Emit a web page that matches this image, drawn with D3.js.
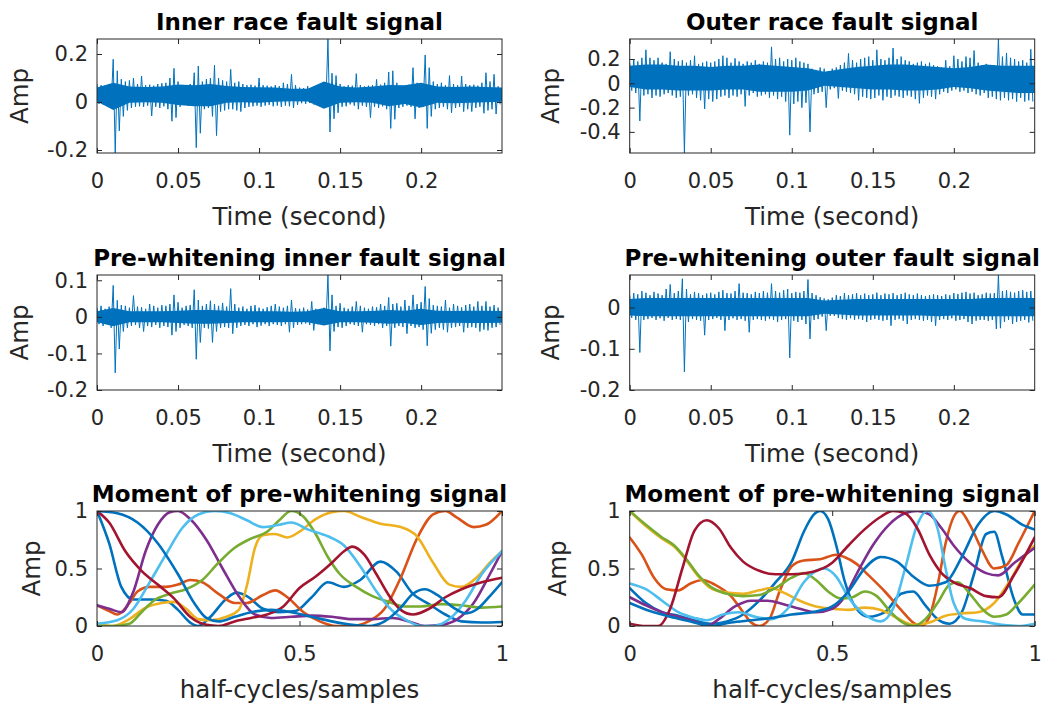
<!DOCTYPE html>
<html>
<head>
<meta charset="utf-8">
<script src="https://cdn.jsdelivr.net/npm/d3@7"></script>
<style>
body { margin: 0; background: #fff; }
text { font-family: "DejaVu Sans", sans-serif; }
</style>
</head>
<body>
<svg id="fig" width="1048" height="708"></svg>
<script>
// ---- data ----
// signals: per 2.5 ms bin, the highest and lowest sample value
const binSeconds = 0.0025;
// dense core of each signal, one pair every 10 ms
const bandSeconds = 0.01;
const timeTicks = [0, 0.05, 0.1, 0.15, 0.2];
const timeRange = [0, 0.2499];

const innerHi = [0.075,0.07,0.068,0.072,0.178,0.13,0.095,0.085,0.09,0.1,0.075,0.108,0.07,0.072,0.068,0.075,0.078,0.08,0.1,0.14,
  0.085,0.07,0.065,0.075,0.122,0.15,0.085,0.095,0.1,0.153,0.1,0.09,0.085,0.136,0.08,0.085,0.075,0.07,0.072,0.068,
  0.1,0.07,0.068,0.065,0.07,0.066,0.08,0.075,0.115,0.07,0.06,0.058,0.066,0.055,0.058,0.062,0.056,0.2625,0.12,0.11,
  0.075,0.065,0.07,0.068,0.118,0.07,0.065,0.068,0.07,0.094,0.072,0.08,0.125,0.13,0.08,0.068,0.07,0.072,0.143,0.08,
  0.075,0.196,0.143,0.085,0.075,0.08,0.07,0.11,0.075,0.07,0.108,0.075,0.07,0.072,0.068,0.08,0.122,0.085,0.115,0.065];
const innerLo = [-0.008,-0.01,-0.004,-0.012,-0.2125,-0.12,-0.06,-0.035,-0.025,-0.02,-0.018,-0.02,-0.015,-0.058,-0.02,-0.025,-0.018,-0.03,-0.08,-0.065,
  -0.02,-0.01,-0.015,-0.012,-0.19,-0.13,-0.03,-0.025,-0.06,-0.14,-0.04,-0.035,-0.03,-0.03,-0.035,-0.04,-0.025,-0.02,-0.018,-0.015,
  -0.02,-0.015,-0.012,-0.018,-0.015,-0.02,-0.015,-0.018,-0.025,-0.012,-0.005,-0.008,-0.004,-0.01,-0.006,-0.015,-0.005,-0.125,-0.07,-0.045,
  -0.02,-0.018,-0.01,-0.015,-0.03,-0.015,-0.02,-0.065,-0.02,-0.025,-0.018,-0.03,-0.11,-0.072,-0.025,-0.02,-0.015,-0.02,-0.07,-0.025,
  -0.02,-0.11,-0.06,-0.03,-0.025,-0.02,-0.03,-0.045,-0.025,-0.02,-0.04,-0.03,-0.04,-0.025,-0.02,-0.047,-0.035,-0.03,-0.05,-0.01];
const innerBandHi = [0.06,0.08,0.065,0.063,0.065,0.073,0.07,0.075,0.067,0.063,0.061,0.06,0.055,0.055,0.085,0.065,0.06,0.065,0.071,0.07,0.08,0.065,0.063,0.065,0.063,0.06];
const innerBandLo = [0.002,-0.033,-0.003,-0.001,-0.003,-0.013,-0.018,-0.018,-0.003,-0.001,-0.003,0.001,0.003,0.002,-0.028,-0.003,-0.001,-0.003,-0.018,-0.008,-0.023,-0.003,-0.005,-0.003,-0.001,0.001];

const outerHi = [0.17,0.2,0.18,0.21,0.276,0.21,0.19,0.21,0.17,0.16,0.26,0.2,0.18,0.19,0.17,0.19,0.227,0.16,0.17,0.18,
  0.17,0.18,0.2,0.227,0.21,0.17,0.205,0.18,0.16,0.18,0.17,0.19,0.16,0.18,0.17,0.3,0.2,0.21,0.18,0.2,
  0.19,0.21,0.18,0.17,0.16,0.12,0.11,0.13,0.12,0.1,0.12,0.13,0.15,0.17,0.246,0.19,0.17,0.2,0.21,0.22,
  0.19,0.276,0.2,0.19,0.21,0.29,0.2,0.22,0.19,0.18,0.16,0.17,0.18,0.16,0.17,0.15,0.14,0.13,0.19,0.14,
  0.227,0.2,0.18,0.22,0.21,0.27,0.17,0.15,0.16,0.14,0.15,0.365,0.22,0.25,0.21,0.2,0.18,0.19,0.17,0.28];
const outerLo = [-0.06,-0.08,-0.31,-0.1,-0.09,-0.12,-0.1,-0.11,-0.09,-0.08,-0.1,-0.12,-0.11,-0.574,-0.1,-0.09,-0.12,-0.14,-0.21,-0.13,
  -0.15,-0.13,-0.11,-0.1,-0.12,-0.1,-0.11,-0.09,-0.19,-0.1,-0.08,-0.11,-0.1,-0.09,-0.12,-0.1,-0.13,-0.11,-0.15,-0.427,
  -0.17,-0.15,-0.2,-0.16,-0.4,-0.09,-0.08,-0.07,-0.2,-0.05,-0.04,-0.124,-0.06,-0.07,-0.08,-0.09,-0.14,-0.11,-0.12,-0.13,
  -0.12,-0.1,-0.14,-0.11,-0.12,-0.1,-0.11,-0.12,-0.1,-0.11,-0.13,-0.165,-0.12,-0.1,-0.11,-0.13,-0.09,-0.07,-0.08,-0.06,
  -0.05,-0.07,-0.06,-0.08,-0.07,-0.09,-0.1,-0.08,-0.12,-0.11,-0.13,-0.14,-0.12,-0.14,-0.13,-0.15,-0.12,-0.15,-0.14,-0.15];
const outerBandHi = [0.145,0.155,0.155,0.145,0.145,0.135,0.145,0.145,0.155,0.145,0.135,0.125,0.095,0.115,0.135,0.145,0.155,0.155,0.145,0.135,0.125,0.135,0.155,0.145,0.145,0.145];
const outerBandLo = [-0.03,-0.05,-0.05,-0.06,-0.06,-0.06,-0.05,-0.05,-0.07,-0.07,-0.07,-0.06,-0.02,-0.03,-0.04,-0.05,-0.05,-0.06,-0.06,-0.05,-0.03,-0.04,-0.06,-0.07,-0.08,-0.08];

const preInnerHi = [0.025,0.03,0.022,0.028,0.086,0.045,0.032,0.03,0.025,0.058,0.028,0.026,0.022,0.035,0.03,0.025,0.032,0.03,0.035,0.06,
  0.04,0.025,0.03,0.032,0.074,0.046,0.03,0.035,0.044,0.035,0.03,0.038,0.028,0.077,0.035,0.025,0.028,0.022,0.03,0.032,
  0.025,0.022,0.026,0.03,0.035,0.028,0.025,0.03,0.046,0.024,0.022,0.025,0.02,0.042,0.022,0.02,0.025,0.1144,0.06,0.03,
  0.037,0.025,0.022,0.028,0.042,0.03,0.025,0.022,0.028,0.026,0.035,0.03,0.053,0.035,0.037,0.028,0.046,0.03,0.06,0.035,
  0.04,0.083,0.05,0.032,0.03,0.028,0.046,0.025,0.035,0.03,0.026,0.032,0.035,0.028,0.042,0.03,0.042,0.028,0.032,0.025];
const preInnerLo = [-0.02,-0.025,-0.018,-0.03,-0.153,-0.088,-0.04,-0.03,-0.025,-0.022,-0.03,-0.04,-0.025,-0.028,-0.022,-0.03,-0.025,-0.028,-0.05,-0.04,
  -0.03,-0.022,-0.025,-0.03,-0.116,-0.07,-0.03,-0.032,-0.07,-0.04,-0.03,-0.028,-0.03,-0.046,-0.03,-0.025,-0.022,-0.025,-0.02,-0.028,
  -0.024,-0.02,-0.025,-0.02,-0.022,-0.025,-0.02,-0.042,-0.03,-0.022,-0.02,-0.018,-0.022,-0.037,-0.02,-0.018,-0.02,-0.093,-0.04,-0.028,
  -0.03,-0.025,-0.02,-0.022,-0.025,-0.042,-0.02,-0.022,-0.025,-0.02,-0.03,-0.025,-0.08,-0.03,-0.025,-0.028,-0.046,-0.025,-0.03,-0.028,
  -0.035,-0.079,-0.045,-0.035,-0.03,-0.035,-0.042,-0.03,-0.028,-0.025,-0.042,-0.03,-0.028,-0.03,-0.04,-0.035,-0.037,-0.03,-0.028,-0.022];
const preInnerBandHi = [0.015,0.024,0.015,0.015,0.015,0.017,0.019,0.019,0.017,0.015,0.015,0.015,0.014,0.015,0.024,0.015,0.015,0.016,0.019,0.017,0.022,0.017,0.016,0.017,0.017,0.016];
const preInnerBandLo = [-0.015,-0.026,-0.015,-0.015,-0.015,-0.017,-0.019,-0.019,-0.017,-0.015,-0.015,-0.015,-0.014,-0.015,-0.024,-0.015,-0.015,-0.016,-0.019,-0.017,-0.022,-0.017,-0.016,-0.017,-0.017,-0.016];

const preOuterHi = [0.03,0.035,0.032,0.04,0.036,0.03,0.038,0.034,0.03,0.045,0.056,0.035,0.04,0.07,0.045,0.032,0.038,0.035,0.03,0.034,
  0.036,0.032,0.038,0.042,0.035,0.034,0.04,0.058,0.036,0.035,0.032,0.038,0.035,0.04,0.036,0.058,0.04,0.036,0.042,0.045,
  0.035,0.038,0.036,0.04,0.068,0.035,0.03,0.025,0.022,0.02,0.024,0.03,0.028,0.035,0.03,0.032,0.035,0.03,0.034,0.03,
  0.032,0.036,0.03,0.034,0.032,0.035,0.03,0.033,0.036,0.032,0.03,0.034,0.03,0.028,0.03,0.032,0.03,0.028,0.032,0.03,
  0.035,0.033,0.036,0.038,0.034,0.036,0.03,0.032,0.036,0.034,0.035,0.079,0.04,0.042,0.038,0.036,0.04,0.042,0.038,0.04];
const preOuterLo = [-0.025,-0.03,-0.109,-0.03,-0.028,-0.025,-0.03,-0.026,-0.032,-0.025,-0.03,-0.028,-0.03,-0.156,-0.035,-0.028,-0.03,-0.032,-0.067,-0.03,
  -0.028,-0.025,-0.03,-0.056,-0.03,-0.026,-0.03,-0.028,-0.032,-0.06,-0.03,-0.028,-0.03,-0.032,-0.028,-0.03,-0.035,-0.03,-0.028,-0.122,
  -0.032,-0.035,-0.03,-0.04,-0.076,-0.03,-0.028,-0.022,-0.056,-0.02,-0.02,-0.025,-0.028,-0.03,-0.026,-0.03,-0.028,-0.03,-0.035,-0.03,
  -0.028,-0.03,-0.032,-0.03,-0.044,-0.03,-0.028,-0.032,-0.04,-0.03,-0.028,-0.03,-0.032,-0.03,-0.035,-0.044,-0.03,-0.028,-0.03,-0.026,
  -0.032,-0.03,-0.028,-0.035,-0.04,-0.032,-0.03,-0.03,-0.032,-0.03,-0.052,-0.05,-0.035,-0.03,-0.04,-0.035,-0.032,-0.03,-0.036,-0.032];
const preOuterBandHi = [0.021,0.023,0.023,0.023,0.023,0.023,0.023,0.023,0.023,0.023,0.023,0.023,0.017,0.019,0.021,0.021,0.021,0.021,0.021,0.021,0.021,0.021,0.023,0.023,0.023,0.023];
const preOuterBandLo = [-0.019,-0.021,-0.021,-0.021,-0.021,-0.021,-0.021,-0.021,-0.021,-0.021,-0.021,-0.021,-0.015,-0.017,-0.019,-0.019,-0.019,-0.019,-0.019,-0.021,-0.019,-0.021,-0.021,-0.021,-0.021,-0.021];

// moment curves: [half-cycles/samples, amplitude]
const momentTicks = [0, 0.5, 1];

const leftBlue1 = [[0,1],[0.03,0.72],[0.06,0.34],[0.09,0.23],[0.13,0.23],[0.17,0.22],[0.2,0.14],[0.23,0.03],[0.25,0],[0.28,0.08],[0.32,0.24],[0.345,0.29],[0.37,0.26],[0.41,0.15],[0.45,0.12],[0.49,0.13],[0.53,0.25],[0.57,0.38],[0.61,0.34],[0.65,0.4],[0.7,0.56],[0.74,0.47],[0.78,0.28],[0.82,0.19],[0.86,0.1],[0.9,0.04],[0.95,0.03],[1,0.035]];
const leftOrange = [[0,0.18],[0.03,0.13],[0.05,0.1],[0.08,0.2],[0.1,0.3],[0.13,0.34],[0.17,0.34],[0.2,0.36],[0.23,0.4],[0.26,0.38],[0.3,0.28],[0.34,0.2],[0.37,0.2],[0.41,0.27],[0.44,0.31],[0.47,0.25],[0.51,0.12],[0.55,0.04],[0.59,0],[0.63,0],[0.67,0.04],[0.71,0.15],[0.75,0.42],[0.79,0.76],[0.83,0.97],[0.86,1],[0.89,0.94],[0.93,0.86],[0.96,0.88],[1,1]];
const leftYellow = [[0,0.02],[0.04,0],[0.08,0.06],[0.12,0.16],[0.16,0.2],[0.19,0.21],[0.22,0.15],[0.25,0.06],[0.28,0.05],[0.32,0.08],[0.35,0.14],[0.37,0.35],[0.39,0.68],[0.41,0.79],[0.44,0.8],[0.47,0.77],[0.5,0.82],[0.54,0.93],[0.58,0.99],[0.61,1],[0.65,0.95],[0.7,0.89],[0.75,0.86],[0.79,0.78],[0.83,0.55],[0.87,0.36],[0.9,0.34],[0.94,0.43],[0.97,0.55],[1,0.65]];
const leftPurple = [[0,0.18],[0.03,0.15],[0.06,0.12],[0.09,0.3],[0.12,0.65],[0.15,0.88],[0.18,0.99],[0.2,1],[0.23,0.93],[0.27,0.75],[0.31,0.5],[0.35,0.26],[0.39,0.1],[0.43,0.07],[0.48,0.08],[0.53,0.09],[0.58,0.08],[0.63,0.06],[0.68,0.06],[0.73,0.07],[0.77,0.04],[0.81,0],[0.85,0.01],[0.89,0.06],[0.93,0.2],[0.97,0.45],[1,0.65]];
const leftGreen = [[0,0],[0.04,0],[0.08,0.02],[0.11,0.12],[0.14,0.22],[0.18,0.28],[0.22,0.32],[0.26,0.4],[0.3,0.55],[0.34,0.68],[0.38,0.76],[0.42,0.82],[0.45,0.92],[0.48,1],[0.51,0.95],[0.54,0.8],[0.57,0.6],[0.6,0.45],[0.64,0.34],[0.68,0.26],[0.72,0.21],[0.76,0.17],[0.8,0.17],[0.85,0.19],[0.9,0.18],[0.95,0.16],[1,0.17]];
const leftLightBlue = [[0,0.02],[0.05,0.05],[0.09,0.15],[0.13,0.38],[0.17,0.62],[0.21,0.85],[0.25,0.97],[0.29,1],[0.33,0.98],[0.37,0.92],[0.41,0.86],[0.45,0.88],[0.48,0.9],[0.52,0.84],[0.57,0.78],[0.61,0.7],[0.65,0.52],[0.69,0.3],[0.73,0.13],[0.77,0.04],[0.8,0],[0.83,0],[0.87,0.06],[0.91,0.22],[0.95,0.45],[1,0.65]];
const leftDarkRed = [[0,1],[0.03,0.9],[0.07,0.65],[0.11,0.48],[0.15,0.36],[0.19,0.24],[0.23,0.08],[0.27,0.01],[0.3,0],[0.34,0.04],[0.38,0.07],[0.42,0.1],[0.46,0.17],[0.5,0.33],[0.54,0.43],[0.58,0.55],[0.61,0.65],[0.63,0.69],[0.66,0.62],[0.69,0.45],[0.72,0.27],[0.75,0.14],[0.78,0.1],[0.82,0.15],[0.86,0.25],[0.9,0.32],[0.95,0.38],[1,0.42]];
const leftBlue2 = [[0,1],[0.05,0.98],[0.1,0.9],[0.15,0.72],[0.2,0.45],[0.24,0.2],[0.27,0.07],[0.3,0.04],[0.34,0.08],[0.38,0.12],[0.43,0.14],[0.48,0.12],[0.53,0.08],[0.58,0.04],[0.63,0.01],[0.67,0],[0.71,0.04],[0.75,0.16],[0.78,0.28],[0.81,0.32],[0.84,0.27],[0.88,0.16],[0.91,0.11],[0.94,0.15],[0.97,0.26],[1,0.38]];

const rightBlue1 = [[0,0.33],[0.04,0.2],[0.08,0.12],[0.12,0.09],[0.16,0.05],[0.2,0.02],[0.24,0.04],[0.28,0.1],[0.32,0.22],[0.36,0.38],[0.4,0.56],[0.43,0.82],[0.455,0.97],[0.47,1],[0.49,0.93],[0.51,0.7],[0.53,0.4],[0.56,0.15],[0.59,0.08],[0.63,0.12],[0.67,0.28],[0.7,0.3],[0.73,0.18],[0.76,0.06],[0.79,0.02],[0.82,0.12],[0.85,0.45],[0.88,0.8],[0.9,0.82],[0.92,0.6],[0.95,0.22],[0.97,0.1],[1,0.1]];
const rightOrange = [[0,0.77],[0.03,0.62],[0.06,0.42],[0.09,0.32],[0.12,0.31],[0.15,0.37],[0.18,0.4],[0.21,0.36],[0.25,0.26],[0.28,0.12],[0.3,0.03],[0.32,0],[0.345,0.06],[0.37,0.3],[0.4,0.52],[0.43,0.57],[0.47,0.58],[0.51,0.62],[0.53,0.6],[0.56,0.54],[0.59,0.44],[0.63,0.3],[0.67,0.14],[0.7,0.03],[0.72,0],[0.74,0.08],[0.76,0.35],[0.78,0.72],[0.8,0.95],[0.815,1],[0.84,0.88],[0.87,0.66],[0.9,0.5],[0.93,0.53],[0.96,0.72],[1,1]];
const rightYellow = [[0,1],[0.04,0.87],[0.08,0.76],[0.11,0.69],[0.14,0.57],[0.17,0.43],[0.2,0.33],[0.24,0.29],[0.28,0.28],[0.32,0.31],[0.35,0.33],[0.38,0.29],[0.42,0.22],[0.46,0.17],[0.5,0.15],[0.54,0.14],[0.58,0.16],[0.62,0.14],[0.66,0.07],[0.7,0.01],[0.74,0.03],[0.78,0.09],[0.82,0.11],[0.86,0.12],[0.9,0.2],[0.94,0.4],[0.97,0.58],[1,0.7]];
const rightPurple = [[0,0.25],[0.04,0.18],[0.08,0.12],[0.12,0.08],[0.16,0.04],[0.19,0],[0.22,0.06],[0.26,0.17],[0.3,0.22],[0.34,0.22],[0.38,0.19],[0.42,0.15],[0.46,0.12],[0.5,0.15],[0.53,0.25],[0.56,0.45],[0.6,0.7],[0.64,0.88],[0.68,0.98],[0.71,1],[0.74,0.97],[0.77,0.85],[0.8,0.7],[0.84,0.55],[0.88,0.46],[0.91,0.44],[0.95,0.55],[1,0.68]];
const rightGreen = [[0,1],[0.04,0.88],[0.08,0.77],[0.11,0.7],[0.14,0.58],[0.17,0.44],[0.2,0.34],[0.24,0.28],[0.28,0.26],[0.32,0.27],[0.36,0.33],[0.4,0.42],[0.43,0.46],[0.46,0.4],[0.49,0.3],[0.52,0.24],[0.55,0.25],[0.58,0.3],[0.61,0.26],[0.64,0.14],[0.67,0.04],[0.7,0],[0.73,0.06],[0.76,0.2],[0.79,0.36],[0.81,0.38],[0.84,0.28],[0.87,0.15],[0.9,0.08],[0.93,0.1],[0.96,0.2],[1,0.36]];
const rightLightBlue = [[0,0.37],[0.04,0.32],[0.08,0.22],[0.12,0.12],[0.16,0.07],[0.19,0.05],[0.23,0.1],[0.27,0.12],[0.31,0.08],[0.35,0.06],[0.39,0.15],[0.43,0.38],[0.46,0.48],[0.48,0.5],[0.51,0.43],[0.54,0.25],[0.58,0.1],[0.62,0.04],[0.65,0.15],[0.68,0.5],[0.71,0.88],[0.735,1],[0.76,0.85],[0.78,0.5],[0.8,0.2],[0.83,0.06],[0.87,0.04],[0.92,0.01],[0.96,0],[1,0.02]];
const rightDarkRed = [[0,0.02],[0.04,0],[0.07,0],[0.1,0.15],[0.13,0.5],[0.16,0.83],[0.19,0.92],[0.22,0.85],[0.25,0.68],[0.28,0.56],[0.32,0.48],[0.36,0.45],[0.4,0.45],[0.45,0.47],[0.5,0.55],[0.54,0.7],[0.58,0.84],[0.62,0.95],[0.65,1],[0.68,0.98],[0.71,0.85],[0.74,0.62],[0.77,0.46],[0.8,0.38],[0.84,0.33],[0.88,0.26],[0.91,0.25],[0.95,0.45],[1,0.77]];
const rightBlue2 = [[0,0.2],[0.05,0.13],[0.1,0.08],[0.15,0.04],[0.2,0],[0.25,0.03],[0.3,0.05],[0.35,0.07],[0.4,0.1],[0.45,0.12],[0.5,0.17],[0.54,0.3],[0.58,0.5],[0.62,0.6],[0.66,0.56],[0.7,0.43],[0.74,0.35],[0.78,0.38],[0.82,0.6],[0.86,0.88],[0.9,1],[0.93,0.97],[0.97,0.88],[1,0.84]];

const leftMoments = [leftBlue1, leftOrange, leftYellow, leftPurple, leftGreen, leftLightBlue, leftDarkRed, leftBlue2];
const rightMoments = [rightBlue1, rightOrange, rightYellow, rightPurple, rightGreen, rightLightBlue, rightDarkRed, rightBlue2];

// matlab default line colours
const lineColors = ["#0072BD", "#D95319", "#EDB120", "#7E2F8E", "#77AC30", "#4DBEEE", "#A2142F"];

// ---- drawing ----
const svg = d3.select("#fig");
const axisColor = "#262626";
const fmt = d => String(d);
let clipId = 0;

function panel(p) {
	let g = svg.append("g").attr("transform", `translate(${p.x},${p.y})`);
	let xs = d3.scaleLinear().domain(p.xDomain).range([0, p.w]);
	let ys = d3.scaleLinear().domain(p.yDomain).range([p.h, 0]);

	let id = "clip" + (clipId++);
	g.append("clipPath").attr("id", id)
		.append("rect").attr("width", p.w).attr("height", p.h);
	let plot = g.append("g").attr("clip-path", `url(#${id})`);

	// axes: ticks point inwards on all four sides
	g.append("g").attr("transform", `translate(0,${p.h})`)
		.call(d3.axisBottom(xs).tickValues(p.xTicks).tickSizeInner(-5).tickSizeOuter(0).tickPadding(20).tickFormat(fmt));
	g.append("g")
		.call(d3.axisTop(xs).tickValues(p.xTicks).tickSizeInner(-5).tickSizeOuter(0).tickFormat(""));
	g.append("g")
		.call(d3.axisLeft(ys).tickValues(p.yTicks).tickSizeInner(-5).tickSizeOuter(0).tickPadding(9).tickFormat(fmt));
	g.append("g").attr("transform", `translate(${p.w},0)`)
		.call(d3.axisRight(ys).tickValues(p.yTicks).tickSizeInner(-5).tickSizeOuter(0).tickFormat(""));
	g.selectAll(".domain").remove();
	g.selectAll(".tick line").attr("stroke", axisColor);
	g.selectAll(".tick text").attr("fill", axisColor).attr("font-size", 21)
		.attr("font-family", "DejaVu Sans, sans-serif");
	g.append("rect").attr("width", p.w).attr("height", p.h)
		.attr("fill", "none").attr("stroke", axisColor).attr("stroke-width", 1);

	svg.append("text").attr("x", p.x + p.w / 2).attr("y", p.titleY)
		.attr("text-anchor", "middle").attr("font-weight", "bold").attr("font-size", 23)
		.attr("fill", "#000").text(p.title);
	svg.append("text").attr("x", p.x + p.w / 2).attr("y", p.y + p.h + 72)
		.attr("text-anchor", "middle").attr("font-size", 24.5)
		.attr("fill", axisColor).text(p.xLabel);
	svg.append("text").attr("transform", `translate(${p.yLabelX},${p.y + p.h / 2}) rotate(-90)`)
		.attr("text-anchor", "middle").attr("font-size", 24.5)
		.attr("fill", axisColor).text("Amp");

	return { plot, xs, ys };
}

function drawSignal(p, hi, lo, bandHi, bandLo) {
	// solid core of the trace
	let area = d3.area()
		.x((d, i) => p.xs(i * bandSeconds))
		.y0((d, i) => p.ys(bandLo[i]))
		.y1(d => p.ys(d));
	p.plot.append("path").attr("d", area(bandHi)).attr("fill", lineColors[0]);

	// peaks of every bin, drawn as a zigzag between max and min
	let pts = [];
	hi.forEach((v, i) => {
		pts.push([i * binSeconds, v]);
		pts.push([(i + 0.5) * binSeconds, lo[i]]);
	});
	let line = d3.line().x(d => p.xs(d[0])).y(d => p.ys(d[1]));
	p.plot.append("path").attr("d", line(pts))
		.attr("fill", "none").attr("stroke", lineColors[0])
		.attr("stroke-width", 1);
}

function drawMoments(p, curves) {
	let line = d3.line().curve(d3.curveMonotoneX)
		.x(d => p.xs(d[0])).y(d => p.ys(d[1]));
	curves.forEach((c, i) => {
		p.plot.append("path").attr("d", line(c))
			.attr("fill", "none").attr("stroke", lineColors[i % lineColors.length])
			.attr("stroke-width", 2.6).attr("stroke-linecap", "round");
	});
}

const colX = [97, 629.7];
const panelW = 405;

let a = panel({ x: colX[0], y: 39, w: panelW, h: 114, xDomain: timeRange, yDomain: [-0.2125, 0.2625],
	xTicks: timeTicks, yTicks: [-0.2, 0, 0.2], title: "Inner race fault signal", titleY: 29.5,
	xLabel: "Time (second)", yLabelX: 28 });
drawSignal(a, innerHi, innerLo, innerBandHi, innerBandLo);

let b = panel({ x: colX[1], y: 39, w: panelW, h: 114, xDomain: timeRange, yDomain: [-0.574, 0.365],
	xTicks: timeTicks, yTicks: [-0.4, -0.2, 0, 0.2], title: "Outer race fault signal", titleY: 29.5,
	xLabel: "Time (second)", yLabelX: 559 });
drawSignal(b, outerHi, outerLo, outerBandHi, outerBandLo);

let c = panel({ x: colX[0], y: 275, w: panelW, h: 115, xDomain: timeRange, yDomain: [-0.2, 0.1144],
	xTicks: timeTicks, yTicks: [-0.2, -0.1, 0, 0.1], title: "Pre-whitening inner fault signal", titleY: 266,
	xLabel: "Time (second)", yLabelX: 28 });
drawSignal(c, preInnerHi, preInnerLo, preInnerBandHi, preInnerBandLo);

let d = panel({ x: colX[1], y: 275, w: panelW, h: 115, xDomain: timeRange, yDomain: [-0.2, 0.079],
	xTicks: timeTicks, yTicks: [-0.2, -0.1, 0], title: "Pre-whitening outer fault signal", titleY: 266,
	xLabel: "Time (second)", yLabelX: 559 });
drawSignal(d, preOuterHi, preOuterLo, preOuterBandHi, preOuterBandLo);

let e = panel({ x: colX[0], y: 511, w: panelW, h: 115, xDomain: [0, 1], yDomain: [0, 1],
	xTicks: momentTicks, yTicks: momentTicks, title: "Moment of pre-whitening signal", titleY: 502,
	xLabel: "half-cycles/samples", yLabelX: 40 });
drawMoments(e, leftMoments);

let f = panel({ x: colX[1], y: 511, w: panelW, h: 115, xDomain: [0, 1], yDomain: [0, 1],
	xTicks: momentTicks, yTicks: momentTicks, title: "Moment of pre-whitening signal", titleY: 502,
	xLabel: "half-cycles/samples", yLabelX: 566 });
drawMoments(f, rightMoments);
</script>
</body>
</html>
